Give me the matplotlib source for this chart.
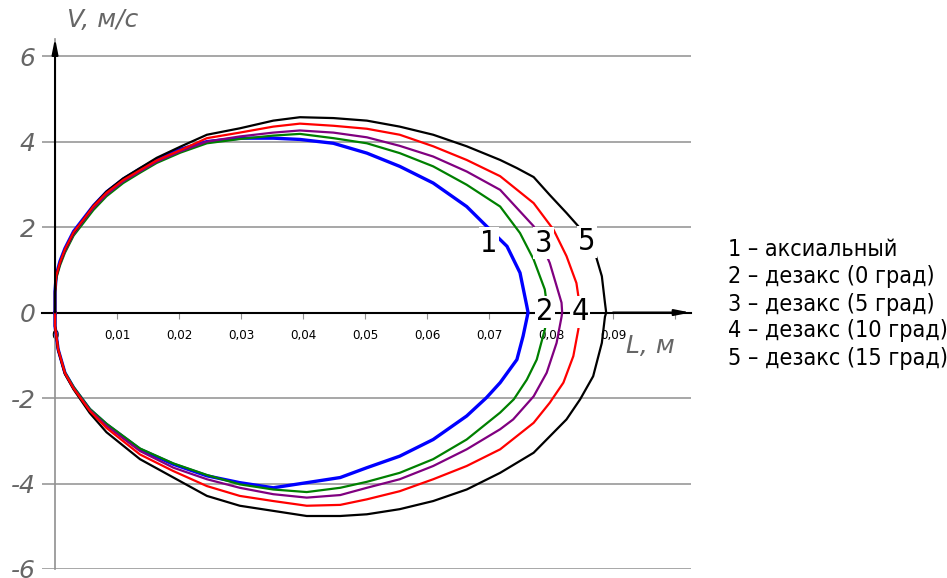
import matplotlib
matplotlib.use("Agg")
import matplotlib.pyplot as plt
from matplotlib import font_manager
from matplotlib.font_manager import FontProperties

# curve 1 - blue
x1_up = [0, 0, 0.0002, 0.0008, 0.0016, 0.003, 0.0046, 0.0062, 0.0083, 0.011, 0.0137, 0.0164, 0.0202, 0.0245,
         0.0298, 0.0352, 0.0395, 0.0449, 0.0503, 0.0556, 0.061, 0.0664, 0.0696, 0.0729, 0.075, 0.0761, 0.0763]
v1_up = [0, 0.5, 0.88, 1.2, 1.5, 1.9, 2.2, 2.5, 2.82, 3.12, 3.36, 3.58, 3.82, 4.0,
         4.08, 4.08, 4.05, 3.96, 3.73, 3.42, 3.03, 2.48, 2.02, 1.55, 0.93, 0.15, 0.0]
x1_dn = [0.0755, 0.0745, 0.0718, 0.0696, 0.0664, 0.061, 0.0556, 0.0503, 0.046, 0.0406, 0.0352, 0.0298, 0.0245,
         0.0191, 0.0137, 0.0083, 0.0056, 0.003, 0.0016, 0.0005, 0, 0]
v1_dn = [-0.55, -1.10, -1.64, -1.99, -2.42, -2.97, -3.36, -3.63, -3.86, -3.98, -4.10, -3.98, -3.82,
         -3.55, -3.20, -2.62, -2.27, -1.76, -1.41, -0.86, -0.32, 0]

# curve 2 - green
x2_up = [0, 0, 0.0002, 0.0008, 0.0016, 0.003, 0.0046, 0.0062, 0.0083, 0.011, 0.0137, 0.0164, 0.0202, 0.0245,
         0.0298, 0.0352, 0.0395, 0.0449, 0.0503, 0.0556, 0.061, 0.0664, 0.0718, 0.075, 0.0772, 0.079, 0.0795]
v2_up = [0, 0.45, 0.8, 1.1, 1.4, 1.8, 2.1, 2.4, 2.72, 3.03, 3.27, 3.5, 3.74, 3.96,
         4.06, 4.14, 4.18, 4.08, 3.96, 3.73, 3.42, 2.99, 2.48, 1.86, 1.24, 0.54, 0]
x2_dn = [0.079, 0.0777, 0.0761, 0.074, 0.0718, 0.0664, 0.061, 0.0556, 0.0503, 0.046, 0.0406, 0.0352, 0.0298,
         0.0245, 0.0191, 0.0137, 0.0083, 0.0056, 0.003, 0.0016, 0.0005, 0, 0]
v2_dn = [-0.40, -1.10, -1.57, -2.03, -2.34, -2.97, -3.43, -3.75, -3.96, -4.10, -4.20, -4.14, -4.02,
         -3.80, -3.53, -3.18, -2.60, -2.25, -1.74, -1.40, -0.86, -0.32, 0]

# curve 3 - purple
x3_up = [0, 0, 0.0002, 0.0008, 0.0016, 0.003, 0.0046, 0.0062, 0.0083, 0.011, 0.0137, 0.0164, 0.0202, 0.0245,
         0.0298, 0.0352, 0.0395, 0.0449, 0.0503, 0.0556, 0.061, 0.0664, 0.0718, 0.0772, 0.0798, 0.0817, 0.0818]
v3_up = [0, 0.48, 0.84, 1.14, 1.44, 1.84, 2.15, 2.45, 2.76, 3.07, 3.30, 3.53, 3.77, 4.0,
         4.12, 4.21, 4.26, 4.21, 4.1, 3.9, 3.65, 3.30, 2.87, 2.02, 1.16, 0.23, 0]
x3_dn = [0.0817, 0.0809, 0.0793, 0.0772, 0.0739, 0.0718, 0.0664, 0.061, 0.0556, 0.0503, 0.046, 0.0406, 0.0352,
         0.0298, 0.0245, 0.0191, 0.0137, 0.0083, 0.0056, 0.003, 0.0016, 0.0005, 0, 0]
v3_dn = [-0.1, -0.71, -1.41, -1.96, -2.50, -2.73, -3.20, -3.59, -3.90, -4.10, -4.27, -4.33, -4.25,
         -4.10, -3.90, -3.63, -3.24, -2.65, -2.28, -1.77, -1.42, -0.86, -0.32, 0]

# curve 4 - red
x4_up = [0, 0, 0.0002, 0.0008, 0.0016, 0.003, 0.0046, 0.0062, 0.0083, 0.011, 0.0137, 0.0164, 0.0202, 0.0245,
         0.0298, 0.0352, 0.0395, 0.0449, 0.0503, 0.0556, 0.061, 0.0664, 0.0718, 0.0772, 0.0804, 0.0825, 0.0841,
         0.0848]
v4_up = [0, 0.5, 0.86, 1.17, 1.48, 1.88, 2.18, 2.49, 2.8, 3.1, 3.33, 3.56, 3.80, 4.08,
         4.21, 4.35, 4.42, 4.37, 4.30, 4.16, 3.89, 3.57, 3.19, 2.56, 1.94, 1.32, 0.69, 0]
x4_dn = [0.0844, 0.0836, 0.082, 0.0798, 0.0772, 0.0718, 0.0664, 0.061, 0.0556, 0.0503, 0.046, 0.0406, 0.0352,
         0.0298, 0.0245, 0.0191, 0.0137, 0.0083, 0.0056, 0.003, 0.0016, 0.0005, 0, 0]
v4_dn = [-0.40, -1.02, -1.64, -2.11, -2.58, -3.20, -3.59, -3.90, -4.18, -4.37, -4.50, -4.52, -4.41,
         -4.29, -4.06, -3.71, -3.32, -2.70, -2.30, -1.78, -1.42, -0.86, -0.32, 0]

# curve 5 - black
x5_up = [0, 0, 0.0002, 0.0008, 0.0016, 0.003, 0.0046, 0.0062, 0.0083, 0.011, 0.0137, 0.0164, 0.0202, 0.0245,
         0.0298, 0.0352, 0.0395, 0.0449, 0.0503, 0.0556, 0.061, 0.0664, 0.0718, 0.0745, 0.0772, 0.0798, 0.0825,
         0.0844, 0.0871, 0.0882, 0.0887, 0.0889]
v5_up = [0, 0.5, 0.85, 1.16, 1.47, 1.87, 2.18, 2.5, 2.83, 3.14, 3.38, 3.62, 3.88, 4.16,
         4.31, 4.49, 4.57, 4.55, 4.49, 4.35, 4.16, 3.89, 3.57, 3.38, 3.17, 2.75, 2.33,
         2.02, 1.39, 0.85, 0.23, 0]
x5_dn = [0.0887, 0.0882, 0.0868, 0.0847, 0.0825, 0.0772, 0.0718, 0.0664, 0.061, 0.0556, 0.0503, 0.046, 0.0406,
         0.0352, 0.0298, 0.0245, 0.0191, 0.0137, 0.0083, 0.0056, 0.003, 0.0016, 0.0005, 0, 0]
v5_dn = [-0.1, -0.71, -1.49, -2.03, -2.50, -3.28, -3.75, -4.14, -4.41, -4.60, -4.72, -4.76, -4.76,
         -4.64, -4.52, -4.29, -3.86, -3.43, -2.80, -2.35, -1.80, -1.44, -0.88, -0.32, 0]

curves = [(x1_up + x1_dn, v1_up + v1_dn, '#0000ff', 2.4),
          (x2_up + x2_dn, v2_up + v2_dn, '#008000', 1.6),
          (x3_up + x3_dn, v3_up + v3_dn, '#800080', 1.6),
          (x5_up + x5_dn, v5_up + v5_dn, '#000000', 1.6),
          (x4_up + x4_dn, v4_up + v4_dn, '#ff0000', 1.6)]

xticks = [0, 0.01, 0.02, 0.03, 0.04, 0.05, 0.06, 0.07, 0.08, 0.09, 0.1]
xticklabels = ['0', '0,01', '0,02', '0,03', '0,04', '0,05', '0,06', '0,07', '0,08', '0,09', '']
yticks = [-6, -4, -2, 0, 2, 4, 6]
yticklabels = ['-6', '-4', '-2', '0', '2', '4', '6']

curve_labels = ['1', '2', '3', '4', '5']
label_x = [0.0700, 0.0790, 0.0788, 0.0847, 0.0858]
label_v = [1.62, 0.02, 1.62, 0.02, 1.66]

legend_lines = ['1 \u2013 аксиальный', '2 \u2013 дезакс (0 град)', '3 \u2013 дезакс (5 град)',
                '4 \u2013 дезакс (10 град)', '5 \u2013 дезакс (15 град)']

# look for a narrow face, the reference uses a condensed drafting font
narrow_fp = None
for f in font_manager.fontManager.ttflist:
    if f.stretch in ('condensed', 'semi-condensed', 'extra-condensed') or 'Narrow' in f.name \
            or 'Condensed' in f.name:
        if f.style == 'normal' and f.weight in (400, 'normal', 'regular'):
            narrow_fp = f.fname
            break


def nfont(size):
    if narrow_fp:
        return FontProperties(fname=narrow_fp, size=size)
    return FontProperties(family='DejaVu Sans', size=size)


fig = plt.figure(figsize=(9.47, 5.78), dpi=100)
ax = fig.add_axes([42 / 947, 9 / 578, (690.5 - 42) / 947, (569 - 39) / 578])
ax.set_xlim(-0.0021, 0.1025)
ax.set_ylim(-6, 6.4)

for y in yticks:
    ax.axhline(y, color='#a0a0a0', lw=1.3, zorder=0)

for xs, vs, c, lw in curves:
    ax.plot(xs, vs, color=c, lw=lw, zorder=3, solid_joinstyle='round')

for s in ['top', 'right']:
    ax.spines[s].set_visible(False)
ax.spines['left'].set_position(('data', 0))
ax.spines['left'].set_color('#909090')
ax.spines['left'].set_linewidth(1.2)
ax.spines['bottom'].set_position(('data', 0))
ax.spines['bottom'].set_linewidth(1.5)

ax.set_xticks(xticks)
ax.set_xticklabels(xticklabels)
for lab in ax.get_xticklabels():
    lab.set_fontproperties(nfont(9.5))
ax.tick_params(axis='x', direction='out', length=4, color='#909090', pad=8)
ax.set_yticks(yticks)
ax.set_yticklabels(yticklabels, fontsize=18, color='#666666', style='italic',
                   fontweight='light')
ax.tick_params(axis='y', length=0, pad=14)

# axis arrows
ax.annotate('', xy=(0, 6.42), xytext=(0, 0),
            arrowprops=dict(arrowstyle='-|>,head_length=0.9,head_width=0.18', color='black', lw=1.5,
                            shrinkA=0, shrinkB=0), annotation_clip=False)
ax.annotate('', xy=(0.1025, 0), xytext=(0.09, 0),
            arrowprops=dict(arrowstyle='-|>,head_length=0.9,head_width=0.18', color='black', lw=1.5,
                            shrinkA=0, shrinkB=0), annotation_clip=False)

for t, lx, lv in zip(curve_labels, label_x, label_v):
    ax.text(lx, lv, t, fontproperties=nfont(22), ha='center', va='center', zorder=5,
            bbox=dict(facecolor='white', edgecolor='none', pad=1))

fig.text(67 / 947, 1 - 20 / 578, 'V, м/с', fontsize=18, style='italic', color='#666666',
         fontweight='light', va='center', ha='left')
fig.text(626 / 947, 1 - 346 / 578, 'L, м', fontsize=18, style='italic', color='#666666',
         fontweight='light', va='center', ha='left')

# legend text, sized so the "2 - ..." line is as wide as in the reference (about 207 px)
leg = []
for i, s in enumerate(legend_lines):
    leg.append(fig.text(728 / 947, 1 - (250 + 27 * i) / 578, s, fontproperties=nfont(17),
                        va='center', ha='left'))
fig.canvas.draw()
w = leg[1].get_window_extent().width
size = min(17, 17 * 207 / w)
for t in leg:
    t.set_fontproperties(nfont(size))

fig.savefig('out.png', dpi=100)
